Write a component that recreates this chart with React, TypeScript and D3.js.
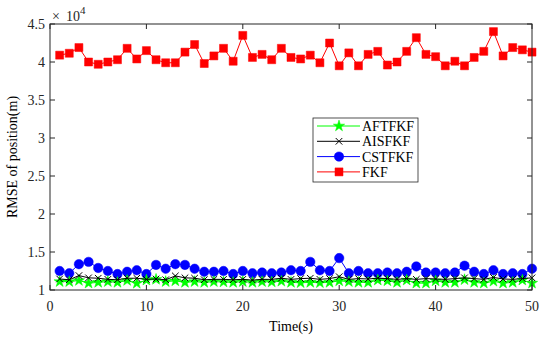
import * as d3 from 'd3';

const times = d3.range(1, 51);

const fkf = [
  4.09, 4.115, 4.19, 4.0, 3.97, 4.0, 4.03, 4.18, 4.04, 4.15,
  4.03, 3.99, 3.99, 4.13, 4.23, 3.98, 4.08, 4.18, 4.01, 4.35,
  4.06, 4.1, 4.03, 4.18, 4.06, 4.04, 4.09, 3.99, 4.25, 3.95,
  4.12, 3.95, 4.1, 4.14, 3.96, 4.0, 4.14, 4.32, 4.1, 4.07,
  3.95, 4.01, 3.95, 4.06, 4.14, 4.4, 4.08, 4.19, 4.16, 4.13,
];

const cstfkf = [
  1.25, 1.22, 1.34, 1.37, 1.29, 1.25, 1.21, 1.24, 1.26, 1.21,
  1.33, 1.28, 1.34, 1.33, 1.28, 1.24, 1.24, 1.25, 1.21, 1.25,
  1.22, 1.23, 1.22, 1.23, 1.26, 1.25, 1.37, 1.26, 1.25, 1.42,
  1.22, 1.25, 1.22, 1.22, 1.23, 1.22, 1.24, 1.31, 1.23, 1.23,
  1.22, 1.23, 1.32, 1.24, 1.21, 1.26, 1.21, 1.22, 1.21, 1.28,
];

const aisfkf = [
  1.145, 1.135, 1.19, 1.16, 1.155, 1.14, 1.135, 1.155, 1.155, 1.14,
  1.145, 1.135, 1.185, 1.16, 1.155, 1.135, 1.14, 1.14, 1.135, 1.14,
  1.13, 1.14, 1.14, 1.155, 1.14, 1.15, 1.155, 1.14, 1.15, 1.175,
  1.14, 1.15, 1.145, 1.155, 1.15, 1.14, 1.15, 1.14, 1.15, 1.145,
  1.14, 1.15, 1.16, 1.15, 1.14, 1.165, 1.145, 1.14, 1.15, 1.16,
];

const aftfkf = [
  1.11, 1.11, 1.125, 1.09, 1.1, 1.11, 1.1, 1.125, 1.088, 1.13,
  1.14, 1.11, 1.12, 1.1, 1.11, 1.1, 1.11, 1.105, 1.1, 1.11,
  1.1, 1.11, 1.105, 1.115, 1.1, 1.095, 1.1, 1.095, 1.1, 1.12,
  1.11, 1.1, 1.1, 1.13, 1.12, 1.1, 1.13, 1.09, 1.09, 1.12,
  1.1, 1.1, 1.135, 1.1, 1.09, 1.115, 1.09, 1.1, 1.13, 1.09,
];

const xTicks = [0, 10, 20, 30, 40, 50];
const yTicks = [1, 1.5, 2, 2.5, 3, 3.5, 4, 4.5];

const legendNames = ['AFTFKF', 'AISFKF', 'CSTFKF', 'FKF'];

const W = 550;
const H = 339;
const m = { left: 50, right: 18, top: 24, bottom: 49 };
const font = '"Liberation Serif", "Times New Roman", serif';

const x = d3.scaleLinear().domain([0, 50]).range([m.left, W - m.right]);
const y = d3.scaleLinear().domain([1, 4.5]).range([H - m.bottom, m.top]);

const line = d3.line<[number, number]>()
  .x(d => x(d[0]))
  .y(d => y(d[1]));

type Series = { name: string; values: number[]; color: string; marker: string };

const series: Series[] = [
  { name: 'CSTFKF', values: cstfkf, color: '#0000ff', marker: 'circle' },
  { name: 'FKF', values: fkf, color: '#ff0000', marker: 'square' },
  { name: 'AFTFKF', values: aftfkf, color: '#00ff00', marker: 'star' },
  { name: 'AISFKF', values: aisfkf, color: '#000000', marker: 'x' },
];

const symbolPath = (marker: string) => {
  if (marker === 'circle') return d3.symbol(d3.symbolCircle, 70)()!;
  if (marker === 'square') return d3.symbol(d3.symbolSquare, 64)()!;
  if (marker === 'star') return d3.symbol(d3.symbolStar, 40)()!;
  return d3.symbol(d3.symbolX, 30)()!;
};

const Marker = ({ s, cx, cy }: { s: Series; cx: number; cy: number }) => {
  const p = symbolPath(s.marker);
  if (s.marker === 'x') {
    return <path d={p} transform={`translate(${cx},${cy})`} fill="none" stroke={s.color} strokeWidth={1} />;
  }
  return <path d={p} transform={`translate(${cx},${cy})`} fill={s.color} stroke={s.color} strokeWidth={0.5} />;
};

export default function App() {
  const x0 = x(0), x1 = x(50), y0 = y(1), y1 = y(4.5);
  const legend = { x: 313, y: 118, w: 105, h: 64 };

  return (
    <svg width={W} height={H} style={{ position: 'absolute', left: 0, top: 0, background: '#fff' }}>
      <rect x={0} y={0} width={W} height={H} fill="#fff" />

      {series.map(s => (
        <g key={s.name}>
          <path
            d={line(times.map((t, i) => [t, s.values[i]] as [number, number]))!}
            fill="none"
            stroke={s.color}
            strokeWidth={1}
          />
          {times.map((t, i) => (
            <Marker key={i} s={s} cx={x(t)} cy={y(s.values[i])} />
          ))}
        </g>
      ))}

      {/* axes box */}
      <rect x={x0} y={y1} width={x1 - x0} height={y0 - y1} fill="none" stroke="#262626" strokeWidth={1} />

      {xTicks.map(t => (
        <g key={t}>
          <line x1={x(t)} x2={x(t)} y1={y0} y2={y0 - 5} stroke="#262626" />
          <line x1={x(t)} x2={x(t)} y1={y1} y2={y1 + 5} stroke="#262626" />
          <text x={x(t)} y={y0 + 21} textAnchor="middle" fontFamily={font} fontSize={14} fill="#262626">
            {t}
          </text>
        </g>
      ))}

      {yTicks.map(t => (
        <g key={t}>
          <line x1={x0} x2={x0 + 5} y1={y(t)} y2={y(t)} stroke="#262626" />
          <line x1={x1} x2={x1 - 5} y1={y(t)} y2={y(t)} stroke="#262626" />
          <text x={x0 - 5} y={y(t) + 5} textAnchor="end" fontFamily={font} fontSize={14} fill="#262626">
            {t}
          </text>
        </g>
      ))}

      <text x={52} y={y1 - 3} fontFamily={font} fontSize={14} fill="#262626">
        ×<tspan dx={6}>10</tspan>
        <tspan dy={-7} fontSize={11}>4</tspan>
      </text>

      <text x={(x0 + x1) / 2} y={H - 8} textAnchor="middle" fontFamily={font} fontSize={14} fill="#000">
        Time(s)
      </text>
      <text
        transform={`translate(17,${(y0 + y1) / 2}) rotate(-90)`}
        textAnchor="middle"
        fontFamily={font}
        fontSize={14}
        fill="#000"
      >
        RMSE of position(m)
      </text>

      {/* legend */}
      <rect x={legend.x} y={legend.y} width={legend.w} height={legend.h} fill="#fff" stroke="#262626" strokeWidth={0.8} />
      {legendNames.map((name, i) => {
        const s = series.find(d => d.name === name)!;
        const ly = legend.y + 8 + i * 15.3;
        return (
          <g key={name}>
            <line x1={legend.x + 4} x2={legend.x + 47} y1={ly} y2={ly} stroke={s.color} strokeWidth={1} />
            <Marker s={s} cx={legend.x + 26} cy={ly} />
            <text x={legend.x + 49} y={ly + 5} fontFamily={font} fontSize={14} fill="#000">
              {name}
            </text>
          </g>
        );
      })}
    </svg>
  );
}
